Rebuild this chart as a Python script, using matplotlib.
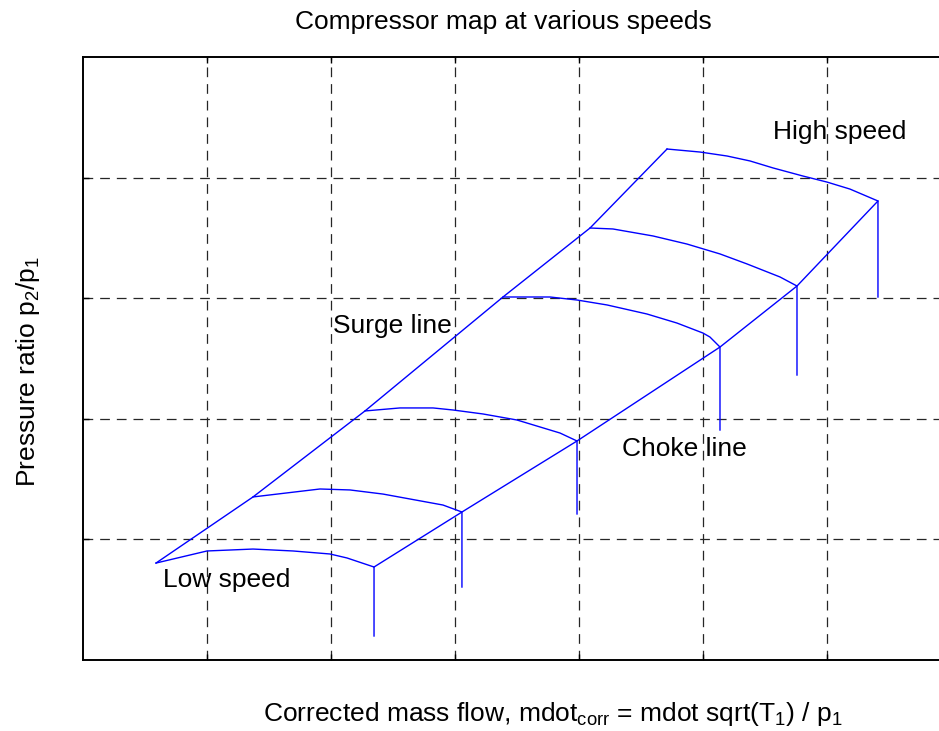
import matplotlib
matplotlib.use("Agg")
import matplotlib.pyplot as plt

plt.rcParams['font.family'] = ['Liberation Sans', 'DejaVu Sans']
plt.rcParams['mathtext.default'] = 'regular'
plt.rcParams['lines.scale_dashes'] = False

# Speed lines: x (corrected mass flow), y (pressure ratio), from surge to choke
speed1_x = [0.589, 1.000, 1.371, 1.694, 1.992, 2.129, 2.347]
speed1_y = [0.804, 0.904, 0.920, 0.904, 0.879, 0.846, 0.771]
speed2_x = [1.371, 1.911, 2.153, 2.419, 2.903, 3.056]
speed2_y = [1.352, 1.418, 1.410, 1.376, 1.285, 1.227]
speed3_x = [2.274, 2.556, 2.823, 2.984, 3.226, 3.500, 3.847, 3.984]
speed3_y = [2.065, 2.090, 2.090, 2.073, 2.040, 1.990, 1.882, 1.816]
speed4_x = [3.387, 3.766, 3.984, 4.226, 4.548, 4.790, 5.000, 5.056, 5.137]
speed4_y = [3.010, 3.010, 2.985, 2.944, 2.869, 2.794, 2.711, 2.678, 2.595]
speed5_x = [4.089, 4.274, 4.597, 4.871, 5.137, 5.355, 5.621, 5.758]
speed5_y = [3.582, 3.574, 3.516, 3.449, 3.367, 3.284, 3.176, 3.101]
speed6_x = [4.710, 4.976, 5.194, 5.379, 5.565, 5.806, 6.000, 6.185, 6.411]
speed6_y = [4.237, 4.212, 4.179, 4.138, 4.080, 4.013, 3.963, 3.905, 3.806]
# Lower end of the vertical segment below each choke point
drop_y = [0.199, 0.605, 1.211, 1.907, 2.363, 3.010]

xs = [speed1_x, speed2_x, speed3_x, speed4_x, speed5_x, speed6_x]
ys = [speed1_y, speed2_y, speed3_y, speed4_y, speed5_y, speed6_y]

fig = plt.figure(figsize=(9.39, 7.31), dpi=100)
W, H = 939, 731
ax = fig.add_axes([83 / W, (H - 660) / H, 868 / W, 603 / H])
ax.set_xlim(0, 7)
ax.set_ylim(0, 5)

c = '#0000ff'
lw = 1.0
for x, y, d in zip(xs, ys, drop_y):
    ax.plot(x + [x[-1]], y + [d], color=c, lw=lw)
# surge line and choke line
ax.plot([x[0] for x in xs], [y[0] for y in ys], color=c, lw=lw)
ax.plot([x[-1] for x in xs], [y[-1] for y in ys], color=c, lw=lw)

ax.set_xticks(range(1, 7))
ax.set_yticks(range(1, 5))
ax.set_xticklabels([])
ax.set_yticklabels([])
ax.tick_params(direction='in', length=4, width=1, top=True, right=True)
ax.grid(True, color='0.15', linestyle=(0, (7, 5)), linewidth=0.9)
for s in ['left', 'top', 'bottom']:
    ax.spines[s].set_linewidth(1.4)
ax.spines['right'].set_visible(False)

fs = 19
fig.text(773 / W, 1 - 132 / H, 'High speed', fontsize=fs, va='center', ha='left')
fig.text(333 / W, 1 - 326 / H, 'Surge line', fontsize=fs, va='center', ha='left')
fig.text(622 / W, 1 - 449 / H, 'Choke line', fontsize=fs, va='center', ha='left')
fig.text(163 / W, 1 - 580 / H, 'Low speed', fontsize=fs, va='center', ha='left')

fig.text(503 / W, 1 - 22 / H, 'Compressor map at various speeds', fontsize=fs,
         ha='center', va='center')
fig.text(553 / W, 1 - 714 / H,
         r'Corrected mass flow, mdot$_{corr}$ = mdot sqrt(T$_1$) / p$_1$',
         fontsize=fs, ha='center', va='center')
fig.text(28 / W, 1 - 372 / H, r'Pressure ratio p$_2$/p$_1$', fontsize=fs,
         ha='center', va='center', rotation=90)

fig.savefig('out.png', dpi=100)
